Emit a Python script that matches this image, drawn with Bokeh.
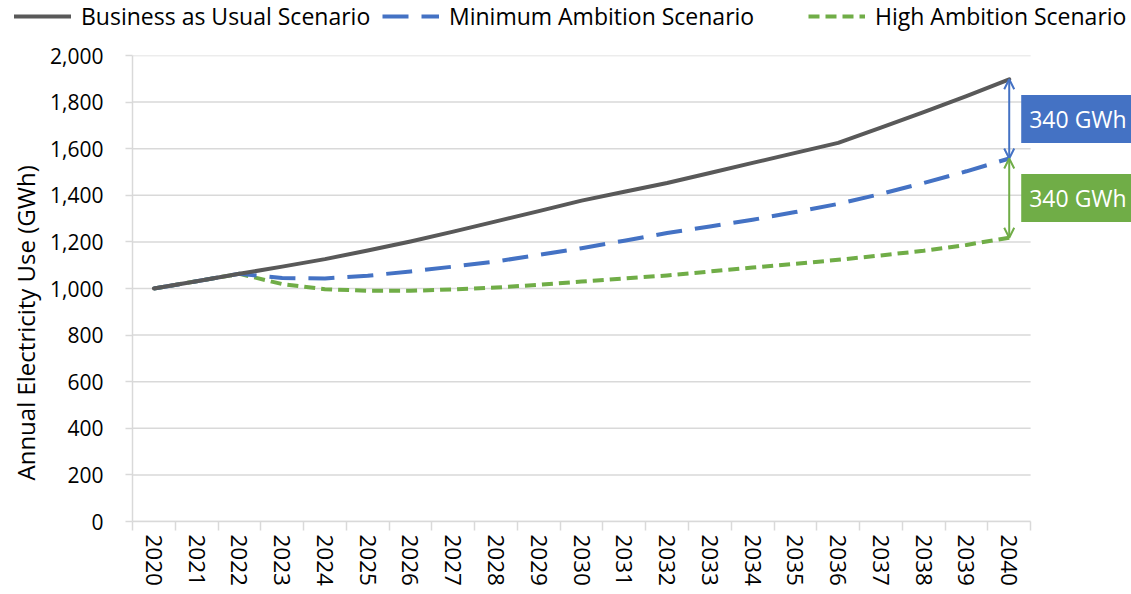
from bokeh.plotting import figure
from bokeh.models import (Range1d, FixedTicker, NumeralTickFormatter, Legend, LegendItem,
                          Arrow, OpenHead, Label, Title)
from bokeh.embed import file_html
from bokeh.resources import INLINE

# ---------------- data ----------------
years = [str(y) for y in range(2020, 2041)]
bau = [1000, 1031, 1063, 1094, 1126, 1163, 1202, 1244, 1288, 1332, 1377,
       1415, 1453, 1496, 1539, 1582, 1625, 1690, 1757, 1826, 1898]
min_amb = [1000, 1031, 1063, 1045, 1043, 1055, 1073, 1094, 1116, 1144, 1173,
           1205, 1238, 1266, 1295, 1328, 1363, 1406, 1453, 1503, 1558]
high_amb = [1000, 1031, 1063, 1019, 997, 990, 990, 996, 1004, 1016, 1030,
            1043, 1056, 1073, 1090, 1106, 1123, 1142, 1162, 1187, 1218]
series_names = ["Business as Usual Scenario", "Minimum Ambition Scenario", "High Ambition Scenario"]
y_ticks = list(range(0, 2001, 200))
y_title = "Annual Electricity Use (GWh)"

# ---------------- style ----------------
FONT = "Open Sans"
GRAY = "#595959"
BLUE = "#4472C4"
GREEN = "#70AD47"
GRID = "#D9D9D9"
W = 1131
LEG_H = 40
MAIN_H = 554
LEFT = 131          # frame left edge
AXIS_W = 899        # width of the category axis in pixels
FRAME_W = W - LEFT  # frame runs to the right edge so the value boxes are visible

n = len(years)
xs = list(range(n))
series = [bau, min_amb, high_amb]
styles = [dict(line_color=GRAY, line_width=4, line_join="round", line_cap="round"),
          dict(line_color=BLUE, line_width=4, line_dash="26 13", line_join="round"),
          dict(line_color=GREEN, line_width=4, line_dash="11 6", line_join="round")]

# ---------------- main chart ----------------
p = figure(width=W, height=MAIN_H, output_backend="svg", toolbar_location=None,
           x_range=Range1d(-0.5, -0.5 + n * FRAME_W / AXIS_W), y_range=Range1d(0, 2000),
           min_border_left=LEFT, min_border_right=0, min_border_top=15, min_border_bottom=73)
p.outline_line_color = None
p.xgrid.visible = False
p.ygrid.visible = False

# horizontal gridlines limited to the category span
p.segment(x0=-0.5, x1=n - 0.5, y0=y_ticks, y1=y_ticks, line_color=GRID, line_width=1.5)

# axes
p.xaxis.bounds = (-0.5, n - 0.5)
p.xaxis.ticker = FixedTicker(ticks=xs, minor_ticks=[i - 0.5 for i in range(n + 1)])
p.xaxis.major_label_overrides = {i: y for i, y in enumerate(years)}
p.xaxis.major_label_orientation = "vertical"
p.xaxis.major_tick_line_color = None
p.xaxis.major_tick_out = 9
p.xaxis.major_tick_in = 0
p.xaxis.minor_tick_line_color = GRID
p.xaxis.minor_tick_line_width = 1.5
p.xaxis.minor_tick_out = 9
p.xaxis.minor_tick_in = 0
p.xaxis.major_label_standoff = 4
p.xaxis.major_label_text_font_size = "22.5px"

p.yaxis.bounds = (0, 2000)
p.yaxis.ticker = FixedTicker(ticks=y_ticks, minor_ticks=[])
p.yaxis.formatter = NumeralTickFormatter(format="0,0")
p.yaxis.major_tick_line_color = GRID
p.yaxis.major_tick_line_width = 1.5
p.yaxis.major_tick_out = 7
p.yaxis.major_tick_in = 0
p.yaxis.minor_tick_line_color = None
p.yaxis.major_label_standoff = 22
p.yaxis.major_label_text_font_size = "21px"

for ax in (p.xaxis, p.yaxis):
    ax.axis_line_color = GRID
    ax.axis_line_width = 1.5
    ax.major_label_text_font = FONT
    ax.major_label_text_color = "black"

# y-axis title, placed lower like the original (centred on the whole chart height)
p.add_layout(Title(text=y_title, align="left", offset=41, standoff=12,
                   text_font=FONT, text_font_size="24px", text_font_style="normal",
                   text_color="black"), "left")

# series lines (drawn back to front)
for vals, st in reversed(list(zip(series, styles))):
    p.line(xs, vals, **st)

# arrows and difference labels at the last year
last = n - 1
diff1 = bau[-1] - min_amb[-1]
diff2 = min_amb[-1] - high_amb[-1]
for y0, y1, col in [(bau[-1], min_amb[-1], BLUE), (min_amb[-1], high_amb[-1], GREEN)]:
    p.add_layout(Arrow(start=OpenHead(size=10, line_color=col, line_width=2),
                       end=OpenHead(size=10, line_color=col, line_width=2),
                       x_start=last, y_start=y0, x_end=last, y_end=y1,
                       line_color=col, line_width=2))

for yv, txt, col in [((bau[-1] + min_amb[-1]) / 2, f"{diff1} GWh", BLUE),
                     ((min_amb[-1] + high_amb[-1]) / 2, f"{diff2} GWh", GREEN)]:
    p.add_layout(Label(x=last, y=yv, x_offset=12, text=txt, text_align="left",
                       text_baseline="middle", text_color="white", text_font=FONT,
                       text_font_size="23px", background_fill_color=col,
                       padding=8))

# ---------------- legend strip (separate root, stacked above) ----------------
lf = figure(width=W, height=LEG_H, output_backend="svg", toolbar_location=None,
            x_range=Range1d(0, W), y_range=Range1d(0, LEG_H),
            x_axis_location=None, y_axis_location=None,
            min_border=0, min_border_left=0, min_border_right=0,
            min_border_top=0, min_border_bottom=0)
lf.grid.visible = False
lf.outline_line_color = None

legend_x = [14, 382, 808]
for name, vals, st, lx in zip(series_names, series, styles, legend_x):
    # same series drawn in the strip; its values lie outside the strip's range,
    # so only the legend swatch is visible
    r = lf.line(xs, vals, **st)
    lg = Legend(items=[LegendItem(label=name, renderers=[r])], location=(lx, 8),
                orientation="horizontal", glyph_width=57, glyph_height=28, label_standoff=10,
                label_text_font=FONT, label_text_font_size="23px", label_text_color="black",
                border_line_color=None, background_fill_alpha=0, padding=0, margin=0,
                label_height=28)
    lf.add_layout(lg, "center")

open("out.html", "w").write(file_html([lf, p], INLINE))
